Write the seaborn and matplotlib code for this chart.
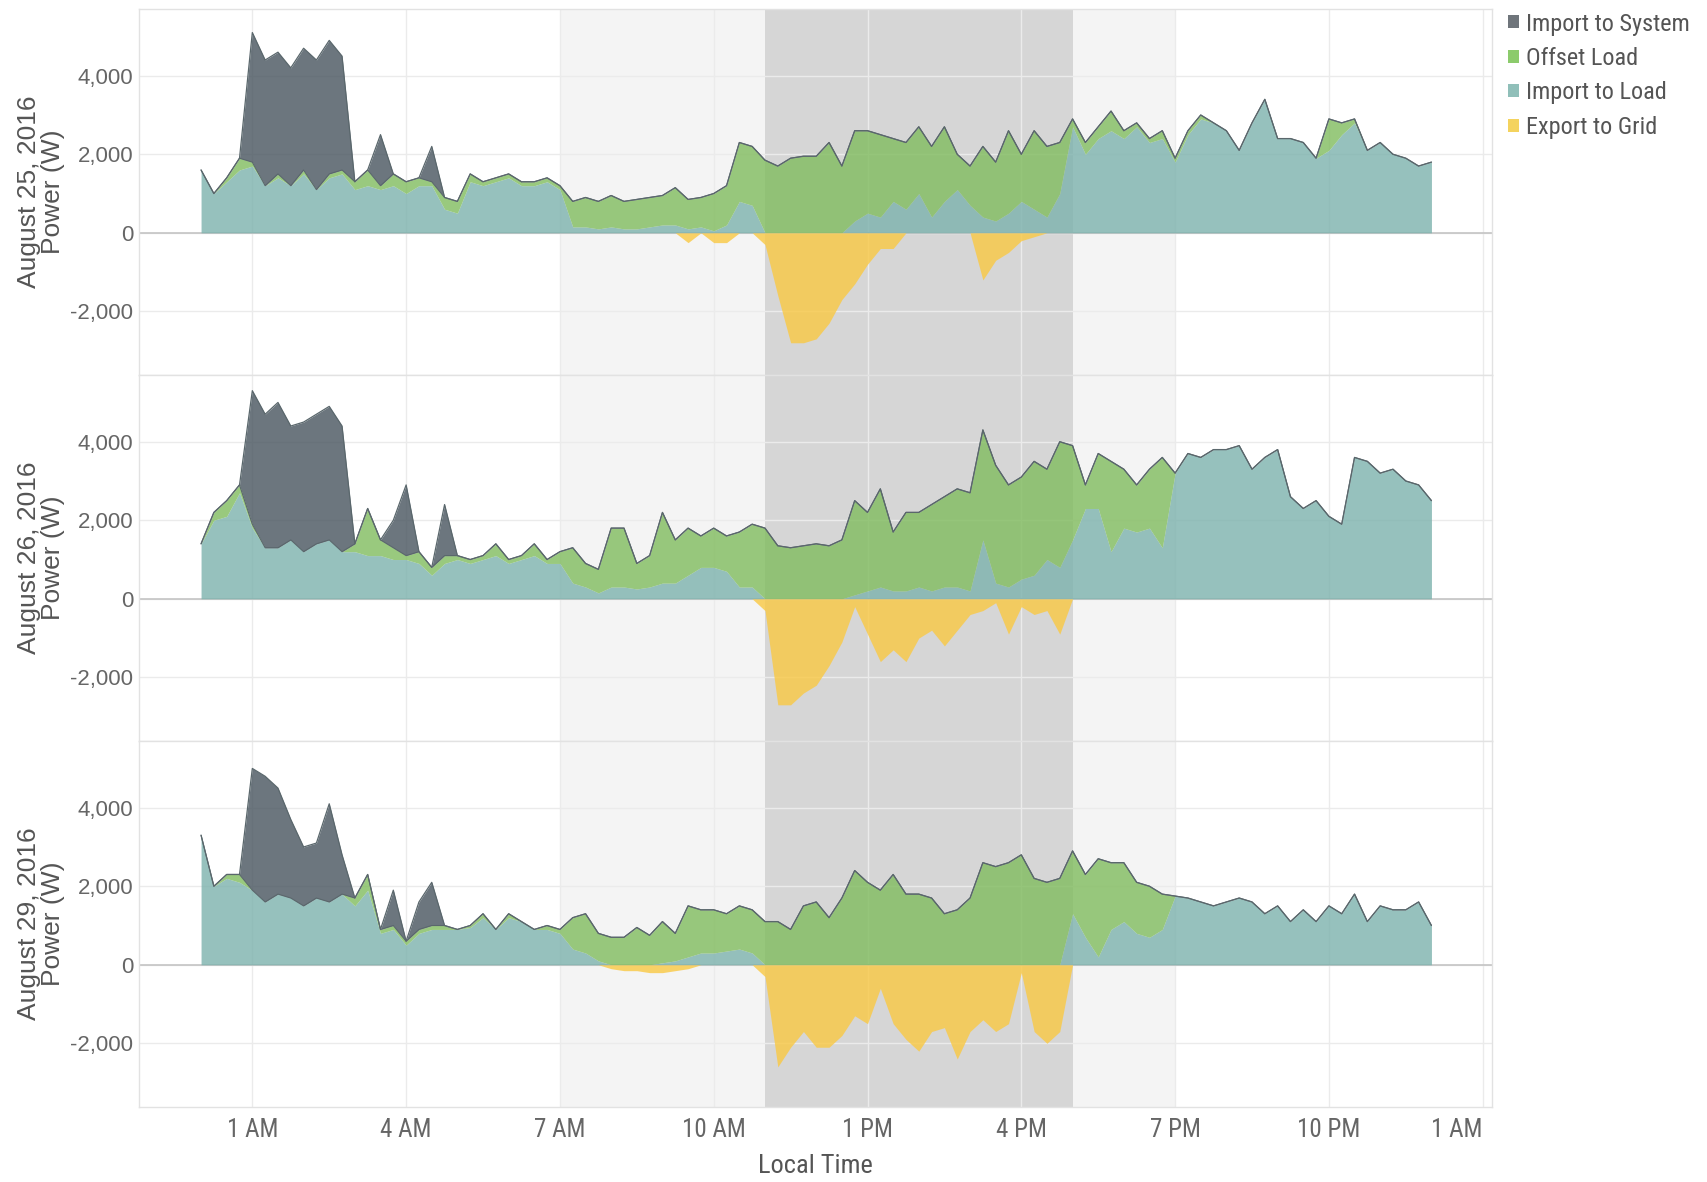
import os
import numpy as np
import matplotlib
matplotlib.use("Agg")
import matplotlib.pyplot as plt
from matplotlib import font_manager
from matplotlib.font_manager import FontProperties
from matplotlib.patches import Patch
import seaborn as sns


# readings every 15 minutes, midnight to midnight (hours)
HOURS = np.arange(0, 24.25, 0.25)

DAYS = ["August 25, 2016", "August 26, 2016", "August 29, 2016"]
SERIES = ["Import to System", "Offset Load", "Import to Load", "Export to Grid"]

X_TICKS = [1, 4, 7, 10, 13, 16, 19, 22, 25]
X_TICK_LABELS = ["1 AM", "4 AM", "7 AM", "10 AM", "1 PM", "4 PM", "7 PM", "10 PM", "1 AM"]
Y_TICKS = [-2000, 0, 2000, 4000]
Y_TICK_LABELS = ["-2,000", "0", "2,000", "4,000"]

# ---- August 25 (W) ----
IMPORT_LOAD_25 = [
    1600, 1000, 1300, 1600, 1700, 1200, 1400, 1200, 1500, 1100, 1400, 1500,
    1100, 1200, 1100, 1200, 1000, 1200, 1200, 600, 500, 1300, 1200, 1300,
    1400, 1200, 1200, 1300, 1100, 150, 150, 100, 150, 100, 100, 150,
    200, 200, 100, 150, 50, 200, 800, 700, 0, 0, 0, 0,
    0, 0, 0, 300, 500, 400, 800, 600, 1000, 400, 800, 1100,
    700, 400, 300, 500, 800, 600, 400, 1000, 2700, 2000, 2400, 2600,
    2400, 2700, 2300, 2400, 1800, 2500, 2900, 2800, 2600, 2100, 2800, 3400,
    2400, 2400, 2300, 1900, 2100, 2500, 2800, 2100, 2300, 2000, 1900, 1700, 1800,
]
OFFSET_LOAD_25 = [
    0, 0, 100, 300, 100, 0, 100, 0, 100, 0, 100, 100,
    200, 400, 100, 300, 300, 200, 100, 300, 300, 200, 100, 100,
    100, 100, 100, 100, 100, 650, 750, 700, 800, 700, 750, 750,
    750, 950, 750, 750, 950, 1000, 1500, 1500, 1850, 1700, 1900, 1950,
    1950, 2300, 1700, 2300, 2100, 2100, 1600, 1700, 1700, 1800, 1900, 900,
    1000, 1800, 1500, 2100, 1200, 2000, 1800, 1300, 200, 300, 300, 500,
    200, 100, 100, 200, 100, 100, 100, 0, 0, 0, 0, 0,
    0, 0, 0, 0, 800, 300, 100, 0, 0, 0, 0, 0, 0,
]
IMPORT_SYSTEM_25 = [
    0, 0, 0, 0, 3300, 3200, 3100, 3000, 3100, 3300, 3400, 2900,
    0, 0, 1300, 0, 0, 0, 900, 0, 0, 0, 0, 0,
    0, 0, 0, 0, 0, 0, 0, 0, 0, 0, 0, 0,
    0, 0, 0, 0, 0, 0, 0, 0, 0, 0, 0, 0,
    0, 0, 0, 0, 0, 0, 0, 0, 0, 0, 0, 0,
    0, 0, 0, 0, 0, 0, 0, 0, 0, 0, 0, 0,
    0, 0, 0, 0, 0, 0, 0, 0, 0, 0, 0, 0,
    0, 0, 0, 0, 0, 0, 0, 0, 0, 0, 0, 0, 0,
]
EXPORT_GRID_25 = [
    0, 0, 0, 0, 0, 0, 0, 0, 0, 0, 0, 0,
    0, 0, 0, 0, 0, 0, 0, 0, 0, 0, 0, 0,
    0, 0, 0, 0, 0, 0, 0, 0, 0, 0, 0, 0,
    0, 0, -250, 0, -250, -250, 0, 0, -300, -1600, -2800, -2800,
    -2700, -2300, -1700, -1300, -800, -400, -400, 0, 0, 0, 0, 0,
    0, -1200, -700, -500, -200, -100, 0, 0, 0, 0, 0, 0,
    0, 0, 0, 0, 0, 0, 0, 0, 0, 0, 0, 0,
    0, 0, 0, 0, 0, 0, 0, 0, 0, 0, 0, 0, 0,
]

# ---- August 26 (W) ----
IMPORT_LOAD_26 = [
    1400, 2000, 2100, 2700, 1800, 1300, 1300, 1500, 1200, 1400, 1500, 1200,
    1200, 1100, 1100, 1000, 1000, 900, 600, 900, 1000, 900, 1000, 1100,
    900, 1000, 1100, 900, 900, 400, 300, 150, 300, 300, 250, 300,
    400, 400, 600, 800, 800, 700, 300, 300, 0, 0, 0, 0,
    0, 0, 0, 100, 200, 300, 200, 200, 300, 200, 300, 300,
    200, 1500, 400, 300, 500, 600, 1000, 800, 1500, 2300, 2300, 1200,
    1800, 1700, 1800, 1300, 3200, 3700, 3600, 3800, 3800, 3900, 3300, 3600,
    3800, 2600, 2300, 2500, 2100, 1900, 3600, 3500, 3200, 3300, 3000, 2900, 2500,
]
OFFSET_LOAD_26 = [
    0, 200, 400, 200, 100, 0, 0, 0, 0, 0, 0, 0,
    200, 1200, 400, 300, 100, 300, 200, 200, 100, 100, 100, 300,
    100, 100, 300, 100, 300, 900, 600, 600, 1500, 1500, 650, 800,
    1800, 1100, 1200, 800, 1000, 900, 1400, 1600, 1800, 1350, 1300, 1350,
    1400, 1350, 1500, 2400, 2000, 2500, 1500, 2000, 1900, 2200, 2300, 2500,
    2500, 2800, 3000, 2600, 2600, 2900, 2300, 3200, 2400, 600, 1400, 2300,
    1500, 1200, 1500, 2300, 0, 0, 0, 0, 0, 0, 0, 0,
    0, 0, 0, 0, 0, 0, 0, 0, 0, 0, 0, 0, 0,
]
IMPORT_SYSTEM_26 = [
    0, 0, 0, 0, 3400, 3400, 3700, 2900, 3300, 3300, 3400, 3200,
    0, 0, 0, 700, 1800, 0, 0, 1300, 0, 0, 0, 0,
    0, 0, 0, 0, 0, 0, 0, 0, 0, 0, 0, 0,
    0, 0, 0, 0, 0, 0, 0, 0, 0, 0, 0, 0,
    0, 0, 0, 0, 0, 0, 0, 0, 0, 0, 0, 0,
    0, 0, 0, 0, 0, 0, 0, 0, 0, 0, 0, 0,
    0, 0, 0, 0, 0, 0, 0, 0, 0, 0, 0, 0,
    0, 0, 0, 0, 0, 0, 0, 0, 0, 0, 0, 0, 0,
]
EXPORT_GRID_26 = [
    0, 0, 0, 0, 0, 0, 0, 0, 0, 0, 0, 0,
    0, 0, 0, 0, 0, 0, 0, 0, 0, 0, 0, 0,
    0, 0, 0, 0, 0, 0, 0, 0, 0, 0, 0, 0,
    0, 0, 0, 0, 0, 0, 0, 0, -300, -2700, -2700, -2400,
    -2200, -1700, -1100, -200, -900, -1600, -1300, -1600, -1000, -800, -1200, -800,
    -400, -300, -100, -900, -200, -400, -300, -900, 0, 0, 0, 0,
    0, 0, 0, 0, 0, 0, 0, 0, 0, 0, 0, 0,
    0, 0, 0, 0, 0, 0, 0, 0, 0, 0, 0, 0, 0,
]

# ---- August 29 (W) ----
IMPORT_LOAD_29 = [
    3300, 2000, 2200, 2100, 1900, 1600, 1800, 1700, 1500, 1700, 1600, 1800,
    1500, 1900, 800, 900, 500, 800, 900, 900, 900, 950, 1200, 900,
    1200, 1100, 900, 900, 800, 400, 300, 100, 0, 0, 0, 0,
    50, 100, 200, 300, 300, 350, 400, 300, 0, 0, 0, 0,
    0, 0, 0, 0, 0, 0, 0, 0, 0, 0, 0, 0,
    0, 0, 0, 0, 0, 0, 0, 0, 1300, 700, 200, 900,
    1100, 800, 700, 900, 1750, 1700, 1600, 1500, 1600, 1700, 1600, 1300,
    1500, 1100, 1400, 1100, 1500, 1300, 1800, 1100, 1500, 1400, 1400, 1600, 1000,
]
OFFSET_LOAD_29 = [
    0, 0, 100, 200, 0, 0, 0, 0, 0, 0, 0, 0,
    200, 400, 100, 100, 100, 100, 100, 100, 0, 50, 100, 0,
    100, 0, 0, 100, 100, 800, 1000, 700, 700, 700, 950, 750,
    1050, 700, 1300, 1100, 1100, 950, 1100, 1100, 1100, 1100, 900, 1500,
    1600, 1200, 1700, 2400, 2100, 1900, 2300, 1800, 1800, 1700, 1300, 1400,
    1700, 2600, 2500, 2600, 2800, 2200, 2100, 2200, 1600, 1600, 2500, 1700,
    1500, 1300, 1300, 900, 0, 0, 0, 0, 0, 0, 0, 0,
    0, 0, 0, 0, 0, 0, 0, 0, 0, 0, 0, 0, 0,
]
IMPORT_SYSTEM_29 = [
    0, 0, 0, 0, 3100, 3200, 2700, 2000, 1500, 1400, 2500, 1000,
    0, 0, 0, 900, 0, 700, 1100, 0, 0, 0, 0, 0,
    0, 0, 0, 0, 0, 0, 0, 0, 0, 0, 0, 0,
    0, 0, 0, 0, 0, 0, 0, 0, 0, 0, 0, 0,
    0, 0, 0, 0, 0, 0, 0, 0, 0, 0, 0, 0,
    0, 0, 0, 0, 0, 0, 0, 0, 0, 0, 0, 0,
    0, 0, 0, 0, 0, 0, 0, 0, 0, 0, 0, 0,
    0, 0, 0, 0, 0, 0, 0, 0, 0, 0, 0, 0, 0,
]
EXPORT_GRID_29 = [
    0, 0, 0, 0, 0, 0, 0, 0, 0, 0, 0, 0,
    0, 0, 0, 0, 0, 0, 0, 0, 0, 0, 0, 0,
    0, 0, 0, 0, 0, 0, 0, 0, -100, -150, -150, -200,
    -200, -150, -100, 0, 0, 0, 0, 0, -300, -2600, -2100, -1700,
    -2100, -2100, -1800, -1300, -1500, -600, -1500, -1900, -2200, -1700, -1600, -2400,
    -1700, -1400, -1700, -1500, -200, -1700, -2000, -1700, 0, 0, 0, 0,
    0, 0, 0, 0, 0, 0, 0, 0, 0, 0, 0, 0,
    0, 0, 0, 0, 0, 0, 0, 0, 0, 0, 0, 0, 0,
]

PANELS = [
    (DAYS[0], IMPORT_LOAD_25, OFFSET_LOAD_25, IMPORT_SYSTEM_25, EXPORT_GRID_25),
    (DAYS[1], IMPORT_LOAD_26, OFFSET_LOAD_26, IMPORT_SYSTEM_26, EXPORT_GRID_26),
    (DAYS[2], IMPORT_LOAD_29, OFFSET_LOAD_29, IMPORT_SYSTEM_29, EXPORT_GRID_29),
]

# fills (drawn semi transparent) and legend swatches
TEAL, GREEN, DARK, YELLOW = "#7cb2ad", "#80bc5e", "#47545e", "#fac943"
SWATCHES = ["#6f757b", "#8ccb6c", "#90bfb9", "#f4d35e"]
LINE = "#5a676c"
TEXT = "#555555"
ALPHA = 0.8

SKIP_WORDS = ("bold", "italic", "oblique", "light", "thin", "medium", "semi", "black", "extra", "heavy")


def narrow_font_file():
    # the reference uses a narrow face for the legend and the time axis
    paths = [f.fname for f in font_manager.fontManager.ttflist]
    for key in ("liberationsansnarrow", "robotocondensed", "notosans-condensed", "opensans_condensed",
                "opensanscondensed", "dejavusanscondensed"):
        for path in paths:
            base = os.path.basename(path).lower()
            if key in base.replace(" ", "") and not any(w in base for w in SKIP_WORDS):
                return path
    return None


def main():
    sns.set_theme(style="whitegrid")
    plt.rcParams["font.family"] = ["Liberation Sans", "DejaVu Sans"]

    path = narrow_font_file()
    if path:
        narrow = FontProperties(fname=path)
        scale = 1.0
    else:
        narrow = FontProperties(family=["Liberation Sans", "DejaVu Sans"])
        scale = 0.82

    def nprop(size):
        fp = narrow.copy()
        fp.set_size(size * scale)
        return fp

    fig, axes = plt.subplots(3, 1, figsize=(17.08, 11.82), dpi=100, sharex=True)
    fig.subplots_adjust(left=0.0814, right=0.8735, top=0.9924, bottom=0.0635, hspace=0)

    for ax, (day, imp, off, sysp, exp) in zip(axes, PANELS):
        imp = np.array(imp, dtype=float)
        load = imp + np.array(off, dtype=float)
        top = load + np.array(sysp, dtype=float)
        exp = np.array(exp, dtype=float)

        # daylight and peak-hours bands
        ax.axvspan(7, 19, color="#f4f4f4", lw=0, zorder=0.1)
        ax.axvspan(11, 17, color="#d6d6d6", lw=0, zorder=0.2)
        ax.grid(True, color="#ebebeb", lw=1)
        ax.set_axisbelow(True)
        ax.axhline(0, color="#c4c4c4", lw=1.2, zorder=1.5)

        ax.fill_between(HOURS, 0, imp, color=TEAL, alpha=ALPHA, lw=0, zorder=2)
        ax.fill_between(HOURS, imp, load, color=GREEN, alpha=ALPHA, lw=0, zorder=2)
        ax.fill_between(HOURS, load, top, color=DARK, alpha=ALPHA, lw=0, zorder=2)
        ax.fill_between(HOURS, exp, 0, color=YELLOW, alpha=ALPHA, lw=0, zorder=2)
        sns.lineplot(x=HOURS, y=load, ax=ax, color=LINE, lw=0.8, zorder=3)
        sns.lineplot(x=HOURS, y=top, ax=ax, color=LINE, lw=0.9, zorder=3)

        ax.set_xlim(-1.21, 25.18)
        ax.set_ylim(-3620, 5700)
        ax.set_yticks(Y_TICKS, Y_TICK_LABELS, fontsize=16, color="#666666")
        ax.set_xticks(X_TICKS, X_TICK_LABELS, color="#666666", fontproperties=nprop(18))
        ax.tick_params(axis="both", length=0)
        ax.tick_params(axis="x", pad=8)
        ax.tick_params(axis="y", pad=4)
        ax.set_xlabel("")
        ax.set_ylabel(f"{day}\nPower (W)", fontsize=19, color=TEXT, linespacing=1.0)
        ax.yaxis.set_label_coords(-0.055, 0.5)
        for spine in ax.spines.values():
            spine.set_color("#e2e2e2")
            spine.set_linewidth(1)

    axes[-1].get_xticklabels()[-1].set_horizontalalignment("right")

    fig.text(0.4775, 0.0135, "Local Time", ha="center", va="center",
             color=TEXT, fontproperties=nprop(19))

    handles = [Patch(facecolor=c, edgecolor="none") for c in SWATCHES]
    fig.legend(handles, SERIES, loc="upper left", bbox_to_anchor=(0.880, 0.9935),
               frameon=False, handlelength=0.45, handleheight=0.45, handletextpad=0.3,
               labelspacing=0.47, borderpad=0.2, borderaxespad=0, labelcolor=TEXT,
               prop=nprop(17.5))

    fig.savefig("out.png", dpi=100)
    plt.close(fig)


if __name__ == "__main__":
    main()
